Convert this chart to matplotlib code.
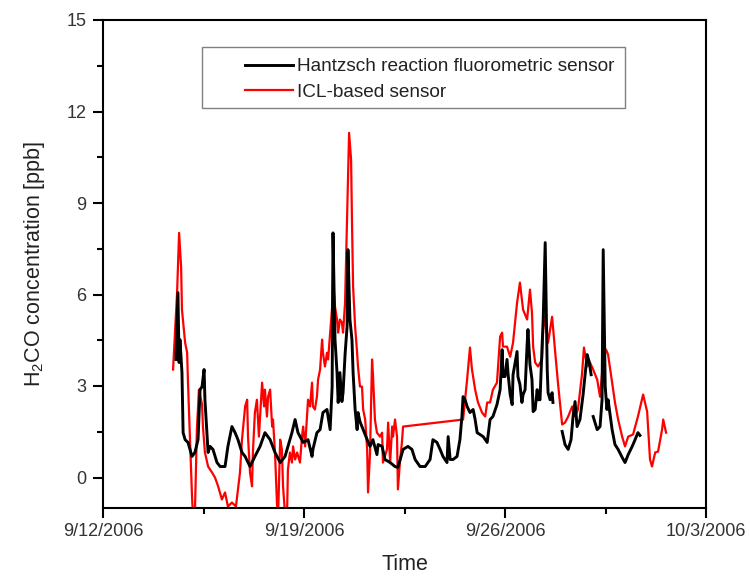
import numpy as np
import pandas as pd
import matplotlib
matplotlib.use("Agg")
import matplotlib.pyplot as plt
import matplotlib.dates as mdates
from matplotlib.patches import Rectangle
from matplotlib.ticker import FixedLocator, MultipleLocator

plt.rcParams['font.family'] = ['Liberation Sans', 'DejaVu Sans']
plt.rcParams['mathtext.default'] = 'regular'

# ---- data: days since 9/12/2006 00:00, concentrations in ppb ----
icl_days = [2.44, 2.58, 2.65, 2.72, 2.75, 2.86, 2.93, 2.96, 3.03, 3.10, 3.13, 3.20, 3.27, 3.34,
            3.45, 3.48, 3.55, 3.66, 3.80, 3.90, 4.01, 4.14, 4.25, 4.35, 4.49, 4.63, 4.77, 4.84,
            4.95, 5.02, 5.05, 5.12, 5.19, 5.22, 5.29, 5.36, 5.43, 5.54, 5.61, 5.64, 5.71, 5.75,
            5.82, 5.89, 5.92, 5.99, 6.06, 6.10, 6.17, 6.23, 6.27, 6.34, 6.41, 6.44, 6.51, 6.58,
            6.62, 6.69, 6.76, 6.86, 6.93, 6.97, 7.04, 7.11, 7.14, 7.21, 7.28, 7.31, 7.38, 7.45,
            7.49, 7.56, 7.63, 7.66, 7.73, 7.80, 7.84, 7.91, 7.98, 8.01, 8.08, 8.15, 8.19, 8.25,
            8.32, 8.36, 8.43, 8.50, 8.57, 8.64, 8.67, 8.71, 8.78, 8.85, 8.88, 8.95, 9.02, 9.06,
            9.13, 9.20, 9.23, 9.30, 9.37, 9.40, 9.47, 9.54, 9.65, 9.72, 9.75, 9.89, 9.93, 10.00,
            10.07, 10.10, 10.17, 10.24, 10.27, 10.34, 10.41, 10.45, 12.54, 12.68, 12.78, 12.85,
            12.96, 13.06, 13.20, 13.31, 13.38, 13.48, 13.58, 13.72, 13.83, 13.90, 13.93, 14.07,
            14.18, 14.28, 14.42, 14.52, 14.63, 14.77, 14.87, 14.94, 14.98, 15.05, 15.15, 15.29,
            15.33, 15.40, 15.50, 15.64, 15.74, 15.85, 15.99, 16.09, 16.20, 16.34, 16.44, 16.54,
            16.68, 16.75, 16.86, 16.96, 17.07, 17.21, 17.31, 17.42, 17.52, 17.59, 17.73, 17.83,
            17.94, 18.08, 18.18, 18.29, 18.46, 18.63, 18.81, 18.95, 19.05, 19.12, 19.23, 19.33,
            19.47, 19.51, 19.61]
icl_ppb = [3.54, 6.06, 8.02, 6.91, 5.50, 4.42, 4.09, 3.11, 1.24, -0.62, -1.2, -1.2, 1.57, 2.88,
           2.39, 1.67, 0.82, 0.36, 0.16, 0.00, -0.29, -0.72, -0.49, -0.95, -0.82, -0.95, 0.16, 1.24,
           2.33, 2.55, 1.34, 0.16, -0.29, 0.82, 2.13, 2.55, 1.34, 3.11, 2.33, 2.88, 2.00, 2.65,
           2.88, 1.67, 1.90, 0.82, -0.88, -1.2, 1.24, 0.92, -0.29, -1.2, -1.2, 0.26, 0.82, 0.49,
           1.02, 0.59, 0.82, 0.49, 1.34, 1.67, 1.02, 2.13, 2.55, 2.33, 3.11, 2.33, 2.23, 2.65,
           3.21, 3.54, 4.52, 4.09, 3.64, 4.09, 3.87, 4.75, 5.60, 6.49, 5.60, 5.18, 4.75, 5.18,
           5.08, 4.75, 5.73, 8.45, 11.30, 10.42, 8.45, 6.26, 4.95, 4.09, 3.64, 2.98, 2.98, 2.23,
           1.90, 0.92, -0.49, 0.82, 3.87, 3.40, 1.90, 1.47, 1.34, 1.47, 0.49, 0.92, 1.80, 0.49,
           1.67, 1.34, 1.90, 1.34, -0.39, 0.49, 1.15, 1.67, 1.90, 3.21, 4.26, 3.54,
           2.88, 2.46, 2.13, 2.00, 2.46, 2.46, 2.88, 3.11, 4.62, 4.75, 4.29, 4.29,
           3.96, 4.42, 5.73, 6.39, 5.50, 5.18, 6.16, 5.40, 4.29, 3.77, 3.64, 3.87,
           4.85, 5.27, 4.42, 5.27, 4.19, 3.05, 1.74, 1.80, 2.00, 2.33, 2.00, 2.23,
           3.37, 4.26, 3.64, 3.77, 3.54, 3.21, 2.65, 3.87, 4.19, 4.03, 3.11, 2.46,
           1.90, 1.34, 1.02, 1.34, 1.41, 2.00, 2.72, 2.16, 0.59, 0.36, 0.82, 0.85,
           1.57, 1.90, 1.47]

# Hantzsch sensor: NaN marks gaps in the record
hz_days = [2.54, 2.61, 2.65, 2.68, 2.75, 2.79, 2.86, 2.96, 3.10, 3.20, 3.31, 3.38, 3.45, 3.52,
           3.55, 3.62, 3.66, 3.73, 3.83, 3.97, 4.08, 4.25, 4.35, 4.49, 4.60, 4.70, 4.84, 4.95,
           5.12, 5.29, 5.47, 5.64, 5.82, 5.99, 6.17, 6.34, 6.44, 6.58, 6.69, 6.79, 6.97, 7.14,
           7.28, 7.31, 7.45, 7.56, 7.66, 7.80, 7.91, 7.98, 8.01, 8.08, 8.15, 8.19, 8.25, 8.32,
           8.36, 8.43, 8.50, 8.53, 8.60, 8.67, 8.71, 8.78, 8.85, 8.88, 8.95, 9.02, 9.06, 9.20,
           9.30, 9.40, 9.54, 9.58, 9.72, 9.82, 10.00, 10.17, 10.27, 10.45, 10.62, 10.76, 10.87,
           11.04, 11.22, 11.39, 11.49, 11.63, 11.74, 11.84, 11.98, 12.02, 12.09, 12.19, 12.33,
           12.43, 12.50, 12.54, 12.61, 12.68, 12.78, 12.89, 12.96, 13.03, 13.13, 13.24, 13.38,
           13.48, 13.58, 13.72, 13.83, 13.90, 13.93, 14.00, 14.07, 14.11, 14.18, 14.25, 14.28,
           14.42, 14.45, 14.52, 14.59, 14.63, 14.70, 14.77, 14.80, 14.87, 14.94, 14.98, 15.05,
           15.12, 15.15, 15.22, 15.29, 15.33, 15.40, 15.47, 15.50, 15.57, 15.64, 15.67, 15.83,
           15.99, 16.09, 16.20, 16.30, 16.37, 16.44, 16.51, 16.61, 16.72, 16.79, 16.86, 16.93,
           17.00, 17.03, 17.07, 17.21, 17.31, 17.38, 17.42, 17.49, 17.55, 17.59, 17.73, 17.83,
           17.94, 18.08, 18.18, 18.29, 18.43, 18.53, 18.63, 18.70]
hz_ppb = [3.87, 6.06, 3.77, 4.52, 3.44, 1.47, 1.24, 1.15, 0.69, 0.82, 1.24, 2.88, 2.98, 3.54,
          2.55, 1.47, 0.82, 1.02, 0.92, 0.49, 0.36, 0.36, 1.02, 1.67, 1.47, 1.24, 0.82, 0.69,
          0.36, 0.69, 1.02, 1.47, 1.24, 0.82, 0.49, 0.69, 1.02, 1.47, 1.90, 1.47, 1.15, 1.24,
          0.69, 0.92, 1.47, 1.57, 2.13, 2.23, 1.57, 2.98, 8.02, 4.52, 3.44, 2.46, 3.44, 2.49,
          2.78, 4.03, 4.95, 7.47, 5.18, 4.52, 3.44, 2.23, 1.57, 2.13, 1.83, 1.67, 1.57, 1.24,
          1.02, 1.24, 0.75, 1.08, 1.02, 0.59, 0.49, 0.36, 0.33, 0.92, 1.02, 0.92, 0.59,
          0.36, 0.36, 0.59, 1.24, 1.15, 0.92, 0.69, 0.49, 1.34, 0.59, 0.59, 0.69,
          1.24, 2.00, 2.65, 2.55, 2.33, 2.13, 2.23, 1.90, 1.47, 1.41, 1.34, 1.15,
          1.90, 2.00, 2.39, 2.88, 4.19, 3.31, 3.31, 3.87, 3.37, 2.72, 2.39, 3.37,
          4.13, 3.31, 3.05, 2.46, 2.72, 2.88, 4.36, 4.85, 3.70, 3.21, 2.16, 2.23,
          2.88, 2.55, 2.55, 4.29, 5.18, 7.70, 3.54, 2.78, 2.55, 2.78, 2.46, np.nan,
          1.51, 1.08, 0.92, 1.24, 2.00, 2.49, 1.67, 1.90, 2.72, 3.37, 4.03, 3.80,
          3.37, np.nan, 2.00, 1.57, 1.67, 2.55, 7.47, 2.98, 2.23, 2.55, 1.57, 1.08,
          0.92, 0.66, 0.49, 0.75, 1.02, 1.24, 1.47, 1.38]

labels = ["Hantzsch reaction fluorometric sensor", "ICL-based sensor"]
x_tick_labels = ["9/12/2006", "9/19/2006", "9/26/2006", "10/3/2006"]
y_ticks = [0, 3, 6, 9, 12, 15]

start = pd.Timestamp("2006-09-12")
icl_t = start + pd.to_timedelta(icl_days, unit="D")
hz_t = start + pd.to_timedelta(hz_days, unit="D")
xticks = pd.to_datetime(x_tick_labels, format="%m/%d/%Y")

fig = plt.figure(figsize=(7.5, 5.77), dpi=100)
ax = fig.add_axes([103/750, 1-508/577, 603/750, 488/577])

l1, = ax.plot(hz_t, hz_ppb, color="black", lw=2.1, zorder=3)
l2, = ax.plot(icl_t, icl_ppb, color="#ff0000", lw=1.6, zorder=2)

ax.set_xlim(xticks[0], xticks[-1])
ax.set_ylim(-1, 15)

ax.set_xticks(xticks)
ax.set_xticklabels(x_tick_labels)
minor = [xticks[i] + (xticks[i+1]-xticks[i])/2 for i in range(len(xticks)-1)]
ax.xaxis.set_minor_locator(FixedLocator(mdates.date2num(minor)))
ax.set_yticks(y_ticks)
ax.yaxis.set_minor_locator(MultipleLocator(1.5))

for s in ax.spines.values():
    s.set_linewidth(1.5)
ax.tick_params(axis="both", which="major", direction="out", length=7, width=1.5,
               labelsize=13, colors="black", labelcolor="#333333")
ax.tick_params(axis="both", which="minor", direction="out", length=4, width=1.5)
ax.tick_params(axis="x", which="major", pad=4)
ax.tick_params(axis="y", which="major", pad=5)
ax.tick_params(top=False, right=False, which="both")

ax.set_xlabel("Time", fontsize=15.5, color="#222222", labelpad=10)
ax.set_ylabel(r"H$_2$CO concentration [ppb]", fontsize=15.5, color="#222222", labelpad=14)

# legend frame
ax.add_patch(Rectangle((0.164, 0.820), 0.702, 0.125, transform=ax.transAxes,
                       facecolor="white", edgecolor="#808080", lw=1.0, zorder=4))
leg = ax.legend([l1, l2], labels, loc="upper left", bbox_to_anchor=(0.2355, 0.922),
                frameon=False, fontsize=13.7, handlelength=2.5, handletextpad=0.25,
                borderpad=0, borderaxespad=0, labelspacing=0.42)
leg.set_zorder(5)
for t in leg.get_texts():
    t.set_color("#222222")

fig.savefig("out.png", dpi=100)
